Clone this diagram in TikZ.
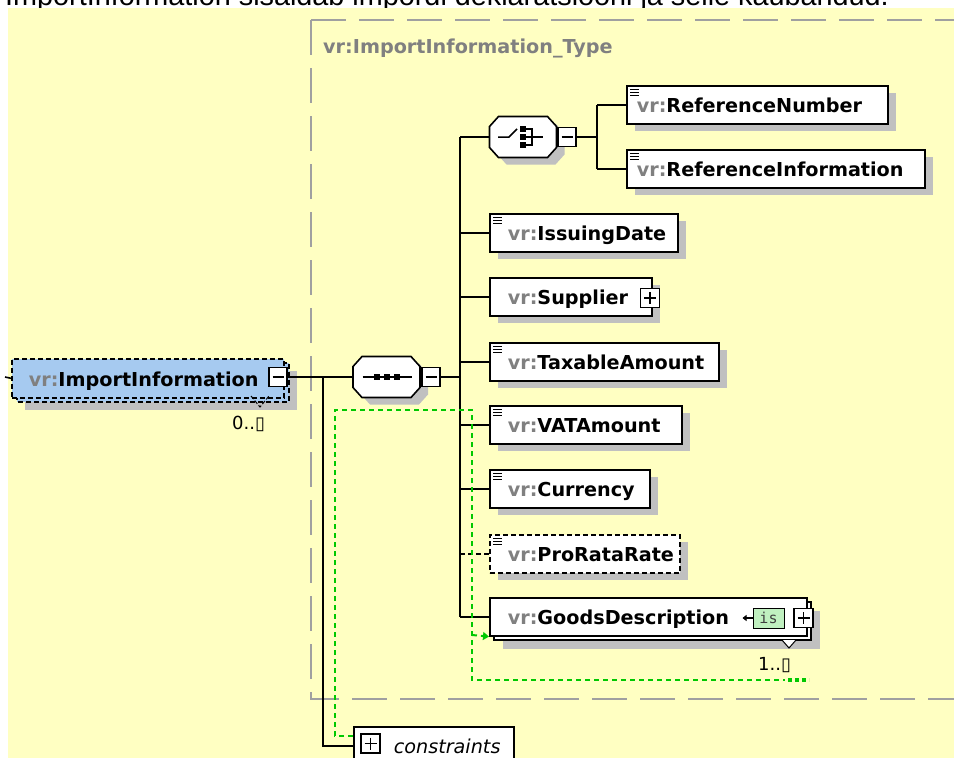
\documentclass[tikz,border=0pt]{standalone}
\usepackage{fontspec}
\newfontfamily\djv{DejaVu Sans}
\newfontfamily\djvmono{DejaVu Sans Mono}
\newfontfamily\libsans{Liberation Sans}
\usetikzlibrary{arrows.meta,shadows}
\definecolor{bgyel}{RGB}{255,255,194}
\definecolor{shadowc}{RGB}{192,192,192}
\definecolor{typeg}{RGB}{160,160,160}
\definecolor{titleg}{RGB}{128,128,128}
\definecolor{pref}{RGB}{128,128,128}
\definecolor{elblue}{RGB}{166,202,240}
\definecolor{idgreen}{RGB}{0,200,0}
\definecolor{isfill}{RGB}{192,240,192}
\newcommand\elfont{\djv\bfseries\fontsize{19.2}{22}\selectfont}
\newcommand\vrp{\textcolor{pref}{vr:}}
\newcommand\lbl[2]{\makebox[#1][l]{#2}}
\begin{document}
\begin{tikzpicture}[x=1pt,y=-1pt,
  conn/.style={line width=1.6pt},
  elem/.style={draw, line width=1.6pt, fill=white, anchor=north west, minimum height=38pt,
    inner ysep=0pt, inner xsep=18pt, text height=17pt, text depth=1pt, font=\elfont},
  shad/.style={drop shadow={shadow xshift=8pt, shadow yshift=-7pt, fill=shadowc, opacity=1}},
  impel/.style={draw, line width=1.6pt, dash pattern=on 5pt off 3pt, fill=elblue, anchor=north west,
    minimum height=39pt, inner ysep=0pt, inner xsep=17pt, text height=17pt, text depth=1pt, font=\elfont},
  minusbox/.style={draw, fill=white, line width=1.2pt, minimum width=18pt, minimum height=19pt, inner sep=0pt,
    path picture={\draw[line width=1.4pt] ([xshift=3.5pt]path picture bounding box.west) -- ([xshift=-3.5pt]path picture bounding box.east);}},
  plusbox/.style={draw, fill=white, line width=1.2pt, minimum width=19pt, minimum height=19pt, inner sep=0pt,
    path picture={\draw[line width=1.4pt] ([xshift=3.5pt]path picture bounding box.west) -- ([xshift=-3.5pt]path picture bounding box.east)
      ([yshift=-3.5pt]path picture bounding box.north) -- ([yshift=3.5pt]path picture bounding box.south);}},
  octa/.style={draw, line width=1.6pt, fill=white},
  anchornode/.style={minimum width=67pt, minimum height=41pt, inner sep=0pt, outer sep=0pt},
  occ/.style={anchor=base west, inner sep=0pt, font=\djv\fontsize{18}{20}\selectfont},
  typebox/.style={draw=typeg, line width=2pt, dash pattern=on 35pt off 13pt},
  gdash/.style={draw=idgreen, line width=2pt, dash pattern=on 5pt off 4pt},
  titletext/.style={anchor=base west, inner sep=0pt, font=\elfont, text=titleg},
  iconline/.style={line width=1.1pt}
]
\useasboundingbox (0,0) rectangle (954,758);
\clip (0,0) rectangle (954,758);
\fill[white] (0,0) rectangle (954,758);
\node[anchor=base west, inner sep=0pt, font=\libsans\fontsize{28.8}{30}\selectfont] (caption) at (5,5)
  {ImportInformation sisaldab impordi deklaratsiooni ja selle kaubandud.};
\fill[bgyel] (8,7.5) rectangle (954,758);

% complex type frame
\draw[typebox] (311,20) -- (960,20);
\draw[typebox] (311,20) -- (311,699) -- (960,699);
\node[titletext] (title) at (323,53) {vr:ImportInformation\_Type};

% ImportInformation (repeating element)
\fill[shadowc] (25,371) rectangle (297,410);
\draw[line width=1.6pt, dash pattern=on 5pt off 3pt, fill=elblue] (17,363) rectangle (289,402);
\node[impel] (imp) at (11,358) {\lbl{238pt}{\vrp ImportInformation}};
\node[minusbox] (impm) at (278,377) {};
\draw[line width=1pt, dash pattern=on 4pt off 2pt] (251,396) -- (260,407) -- (269,396);
\node[occ] (occ1) at (232,429) {0..▯};
\coordinate (inn) at (5,377);

% sequence compositor
\begin{scope}[shift={(386.5,377)}]
\draw[octa, shad] (-24.5,-20.5) -- (24.5,-20.5) -- (33.5,-10.5) -- (33.5,10.5) -- (24.5,20.5) -- (-24.5,20.5) -- (-33.5,10.5) -- (-33.5,-10.5) -- cycle;
\node[anchornode] (seq) at (0,0) {};
\draw[line width=1.5pt] (-24,0) -- (25,0);
\foreach \u in {-10,0,10} \fill (\u-3,-3) rectangle (\u+3,3);
\end{scope}
\node[minusbox] (seqm) at (431,377) {};

% choice compositor
\begin{scope}[shift={(523,137)}]
\draw[octa, shad] (-24.5,-20.5) -- (24.5,-20.5) -- (33.5,-10.5) -- (33.5,10.5) -- (24.5,20.5) -- (-24.5,20.5) -- (-33.5,10.5) -- (-33.5,-10.5) -- cycle;
\node[anchornode] (choice) at (0,0) {};
\draw[line width=1.5pt] (-25,0) -- (-14,0) -- (-6,-8);
\foreach \v in {-8,0,8} \fill (-3,\v-2.75) rectangle (3,\v+2.75);
\draw[line width=1.5pt] (2,-8) -- (9,-8) -- (9,8) -- (2,8);
\draw[line width=1.5pt] (2,0) -- (20,0);
\end{scope}
\node[minusbox] (choicem) at (567,137) {};

% child elements
\node[elem, shad, inner xsep=10pt] (rn) at (626,85) {\lbl{241pt}{\vrp ReferenceNumber}};
\node[elem, shad, inner xsep=10pt] (ri) at (626,149) {\lbl{278pt}{\vrp ReferenceInformation}};
\node[elem, shad] (idate) at (489,213) {\lbl{152pt}{\vrp IssuingDate}};
\node[elem, shad] (sup) at (489,277) {\lbl{126pt}{\vrp Supplier}};
\node[plusbox] (supp) at (650,298) {};
\node[elem, shad] (tax) at (489,342) {\lbl{193pt}{\vrp TaxableAmount}};
\node[elem, shad] (vat) at (489,405) {\lbl{156pt}{\vrp VATAmount}};
\node[elem, shad] (cur) at (489,469) {\lbl{124pt}{\vrp Currency}};
\node[elem, shad, dash pattern=on 5pt off 3pt] (pro) at (489,534) {\lbl{154pt}{\vrp ProRataRate}};

% GoodsDescription (repeating)
\fill[shadowc] (503,611) rectangle (820,649);
\draw[line width=1.6pt, fill=white] (494,602) rectangle (811,640);
\node[elem] (goods) at (489,597) {\lbl{281pt}{\vrp GoodsDescription}};
\draw[line width=1pt, fill=white] (782,640) -- (789,648) -- (796,640);
\node[draw, fill=isfill, line width=1pt, minimum width=31pt, minimum height=20pt, inner sep=0pt,
  font=\djvmono\fontsize{15}{16}\selectfont, text=black!75] (isic) at (768.5,618) {is};
\node[plusbox] (goodsp) at (803.5,618) {};
\node[occ] (occ2) at (758,670) {1..▯};

% constraints
\node[elem, inner xsep=40pt, font=\djv\itshape\fontsize{19.2}{22}\selectfont] (cons) at (353,726) {\lbl{80pt}{constraints}};
\node[plusbox] (consp) at (370.5,743.5) {};

% "is" arrow
\draw[line width=1.2pt, -{Triangle[length=4pt,width=6pt]}] (isic.west) -- ++(-10,0);

% ≡ icons
\foreach \n in {rn,ri,idate,tax,vat,cur,pro}{
  \foreach \d in {0,3,6}
    \draw[iconline] ([shift={(4,4.5+\d)}]\n.north west) -- ++(9,0);
}

% connectors
\draw[conn] (inn) -- (imp.west);
\draw[conn] (impm.east) -- (seq.west);
\coordinate (br) at (323,377);
\draw[conn] (br) |- (cons.west);
\coordinate (bb) at (460,137);
\draw[conn] (seqm.east) -- (seqm.east -| bb);
\draw[conn] (bb) -- (bb |- goods.west);
\draw[conn] (bb) -- (choice.west);
\foreach \n in {idate,sup,tax,vat,cur,goods}
  \draw[conn] (bb |- \n.west) -- (\n.west);
\draw[conn, dash pattern=on 5pt off 3pt] (bb |- pro.west) -- (pro.west);
\coordinate (cb) at (597,137);
\draw[conn] (choicem.east) -- (cb);
\draw[conn] (cb |- rn.west) -- (cb |- ri.west);
\draw[conn] (cb |- rn.west) -- (rn.west);
\draw[conn] (cb |- ri.west) -- (ri.west);

% identity constraint selector (green)
\draw[gdash] ([yshift=10pt]cons.west) -| (335,410) -| (472,680) -- (785,680);
\draw[gdash, -{Triangle[length=6pt,width=8pt]}] (472,635) -- (goods.south west);
\draw[idgreen, line width=3.5pt, dash pattern=on 3.5pt off 3.5pt] (788,680) -- (809,680);
\end{tikzpicture}
\end{document}
